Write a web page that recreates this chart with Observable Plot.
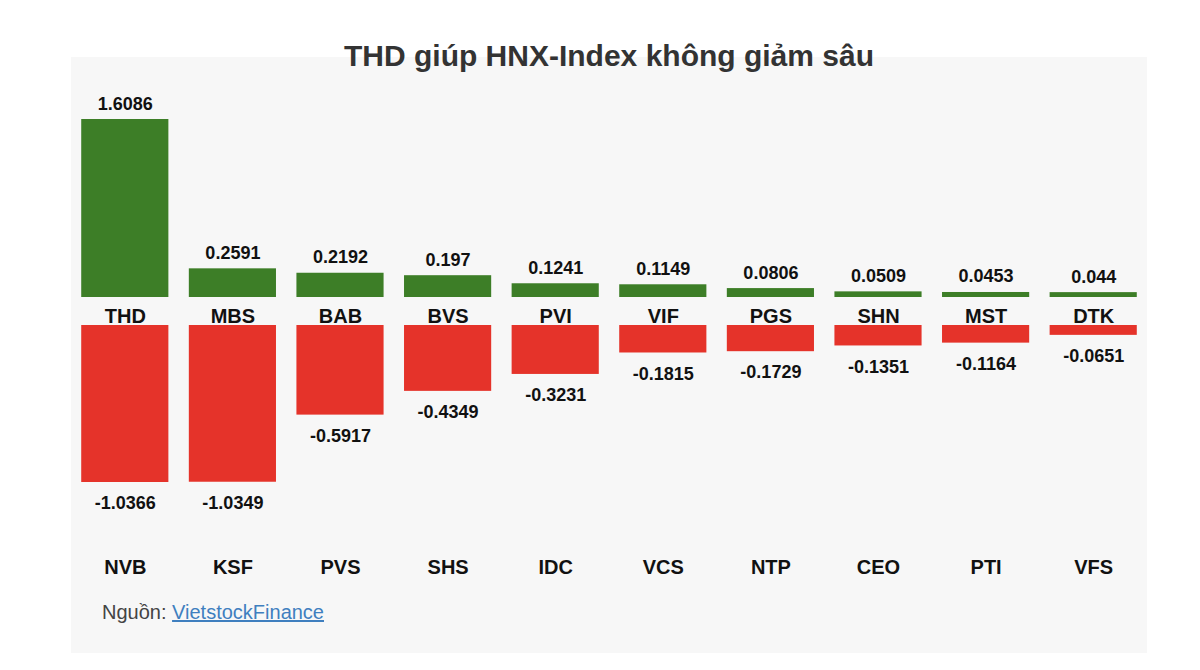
<!DOCTYPE html>
<html>
<head>
<meta charset="utf-8">
<script src="https://cdn.jsdelivr.net/npm/d3@7"></script>
<script src="https://cdn.jsdelivr.net/npm/@observablehq/plot@0.6"></script>
<style>
  html, body { margin: 0; padding: 0; background: #ffffff; }
  body { width: 1200px; height: 670px; position: relative; overflow: hidden;
         font-family: "Liberation Sans", Arial, sans-serif; }
  #panel { position: absolute; left: 71px; top: 57px; width: 1076px; height: 596px; background: #f7f7f7; }
  #title { position: absolute; left: 71px; width: 1076px; top: 41px; text-align: center;
           font-size: 30px; line-height: 30px; font-weight: bold; color: #333333; }
  #top { position: absolute; left: 0; top: 0; }
  #bottom { position: absolute; left: 0; top: 268px; }
  #source { position: absolute; left: 31px; top: 545px; font-size: 20px; line-height: 20px; color: #444444; }
  #source a { color: #3f7fbf; text-decoration: underline; }
  svg { overflow: visible; }
</style>
</head>
<body>
<div id="panel">
  <div id="top"></div>
  <div id="bottom"></div>
  <div id="source">Nguồn: <a href="#">VietstockFinance</a></div>
</div>
<div id="title">THD giúp HNX-Index không giảm sâu</div>
<script>
// Stocks lifting the index (contribution, points)
const gainTickers = ["THD", "MBS", "BAB", "BVS", "PVI", "VIF", "PGS", "SHN", "MST", "DTK"];
const gainValues  = [1.6086, 0.2591, 0.2192, 0.197, 0.1241, 0.1149, 0.0806, 0.0509, 0.0453, 0.044];

// Stocks dragging the index down (contribution, points)
const lossTickers = ["NVB", "KSF", "PVS", "SHS", "IDC", "VCS", "NTP", "CEO", "PTI", "VFS"];
const lossValues  = [-1.0366, -1.0349, -0.5917, -0.4349, -0.3231, -0.1815, -0.1729, -0.1351, -0.1164, -0.0651];

const green = "#3d7e27";
const red = "#e5332a";
const ink = "#111111";

const gains = gainTickers.map((t, i) => ({ticker: t, value: gainValues[i], slot: i}));
const losses = lossTickers.map((t, i) => ({ticker: t, value: lossValues[i], slot: i}));
const slots = d3.range(gainTickers.length);

const W = 1076;
const font = "Liberation Sans, Arial, sans-serif";
const xScale = {domain: slots, paddingInner: 0.19, paddingOuter: 0.095, round: false, axis: null};

const topChart = Plot.plot({
  width: W, height: 268,
  marginTop: 62, marginBottom: 28, marginLeft: 0, marginRight: 0,
  style: {background: "transparent", fontFamily: font},
  x: xScale,
  y: {domain: [0, d3.max(gainValues)], axis: null},
  marks: [
    Plot.barY(gains, {x: "slot", y: "value", fill: green}),
    Plot.text(gains, {x: "slot", y: "value", text: d => String(d.value), lineAnchor: "bottom", dy: -10,
      fontSize: 18, fontWeight: "bold", fill: ink}),
    Plot.text(gains, {x: "slot", y: 0, text: "ticker", lineAnchor: "top", dy: 11,
      fontSize: 20, fontWeight: "bold", fill: ink})
  ]
});
document.getElementById("top").appendChild(topChart);

const bottomChart = Plot.plot({
  width: W, height: 270,
  marginTop: 0, marginBottom: 113, marginLeft: 0, marginRight: 0,
  style: {background: "transparent", fontFamily: font},
  x: xScale,
  y: {domain: [d3.min(lossValues), 0], axis: null},
  marks: [
    Plot.barY(losses, {x: "slot", y: "value", fill: red}),
    Plot.text(losses, {x: "slot", y: "value", text: d => String(d.value), lineAnchor: "top", dy: 14,
      fontSize: 18, fontWeight: "bold", fill: ink}),
    Plot.text(losses, {x: "slot", text: "ticker", frameAnchor: "bottom", lineAnchor: "top", dy: 77,
      fontSize: 20, fontWeight: "bold", fill: ink})
  ]
});
document.getElementById("bottom").appendChild(bottomChart);
</script>
</body>
</html>
